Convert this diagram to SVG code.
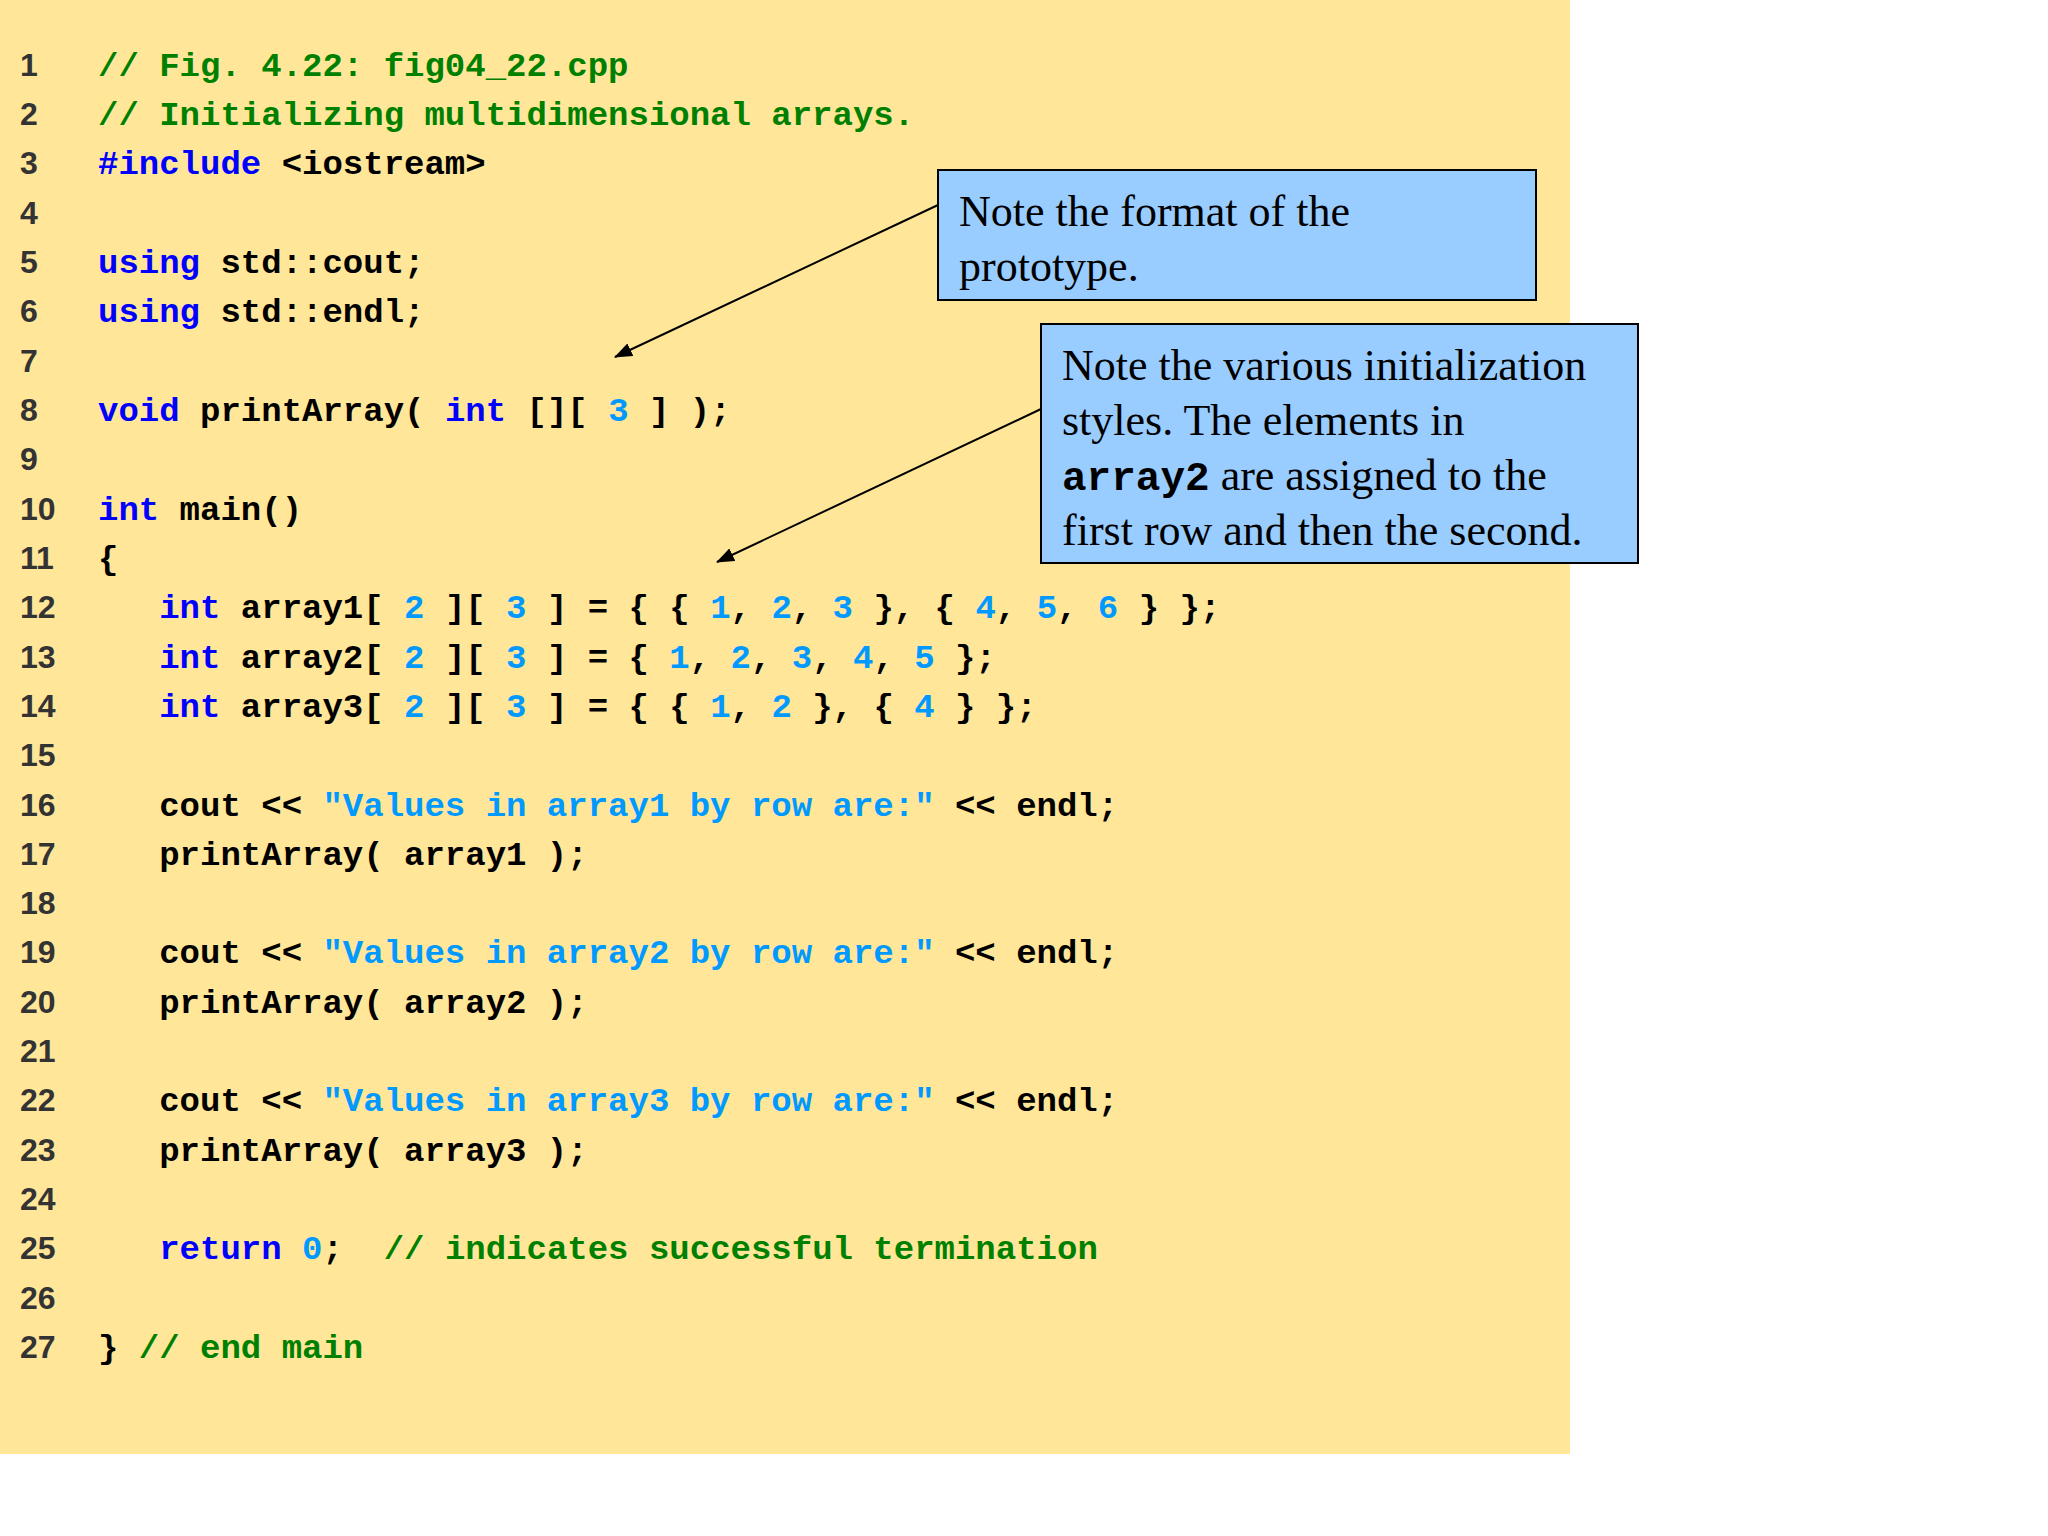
<svg xmlns="http://www.w3.org/2000/svg" width="2048" height="1536" viewBox="0 0 2048 1536">
<style>
.ln{font-family:"Liberation Sans Narrow","Liberation Sans",Arial,sans-serif;font-weight:bold;font-size:32px;fill:#333}
.c{font-family:"Liberation Mono","Courier New",monospace;font-weight:bold;font-size:34px;fill:#000;white-space:pre}
.g{fill:#008000}.k{fill:#0000ff}.n{fill:#0099ff}
.note{font-family:"Liberation Serif","Times New Roman",serif;font-size:44px;fill:#000}
.box{fill:#99ccff;stroke:#000;stroke-width:2}
.arr{stroke:#000;stroke-width:2;fill:none;marker-end:url(#ah)}
</style>
<defs><marker id="ah" markerWidth="18" markerHeight="14" refX="17" refY="7" orient="auto" markerUnits="userSpaceOnUse"><path d="M0,0 L18,7 L0,14 z" fill="#000"/></marker></defs>
<rect x="0" y="0" width="1570" height="1454" fill="#ffe699"/>
<g id="linenumbers" class="ln">
<text x="20" y="76">1</text><text x="20" y="125">2</text><text x="20" y="174">3</text><text x="20" y="224">4</text><text x="20" y="273">5</text><text x="20" y="322">6</text><text x="20" y="372">7</text><text x="20" y="421">8</text><text x="20" y="470">9</text>
<text x="20" y="520">10</text><text x="20" y="569">11</text><text x="20" y="618">12</text><text x="20" y="668">13</text><text x="20" y="717">14</text><text x="20" y="766">15</text><text x="20" y="816">16</text><text x="20" y="865">17</text><text x="20" y="914">18</text><text x="20" y="963">19</text><text x="20" y="1013">20</text><text x="20" y="1062">21</text><text x="20" y="1111">22</text><text x="20" y="1161">23</text><text x="20" y="1210">24</text><text x="20" y="1259">25</text><text x="20" y="1309">26</text><text x="20" y="1358">27</text>
</g>
<g id="code" class="c" xml:space="preserve">
<text x="98" y="76" class="c g">// Fig. 4.22: fig04_22.cpp</text>
<text x="98" y="125" class="c g">// Initializing multidimensional arrays.</text>
<text x="98" y="174" class="c"><tspan class="k">#include</tspan> &lt;iostream&gt;</text>
<text x="98" y="273" class="c"><tspan class="k">using</tspan> std::cout;</text>
<text x="98" y="322" class="c"><tspan class="k">using</tspan> std::endl;</text>
<text x="98" y="421" class="c"><tspan class="k">void</tspan> printArray( <tspan class="k">int</tspan> [][ <tspan class="n">3</tspan> ] );</text>
<text x="98" y="520" class="c"><tspan class="k">int</tspan> main()</text>
<text x="98" y="569" class="c">{</text>
<text x="98" y="618" class="c">   <tspan class="k">int</tspan> array1[ <tspan class="n">2</tspan> ][ <tspan class="n">3</tspan> ] = { { <tspan class="n">1</tspan>, <tspan class="n">2</tspan>, <tspan class="n">3</tspan> }, { <tspan class="n">4</tspan>, <tspan class="n">5</tspan>, <tspan class="n">6</tspan> } };</text>
<text x="98" y="668" class="c">   <tspan class="k">int</tspan> array2[ <tspan class="n">2</tspan> ][ <tspan class="n">3</tspan> ] = { <tspan class="n">1</tspan>, <tspan class="n">2</tspan>, <tspan class="n">3</tspan>, <tspan class="n">4</tspan>, <tspan class="n">5</tspan> };</text>
<text x="98" y="717" class="c">   <tspan class="k">int</tspan> array3[ <tspan class="n">2</tspan> ][ <tspan class="n">3</tspan> ] = { { <tspan class="n">1</tspan>, <tspan class="n">2</tspan> }, { <tspan class="n">4</tspan> } };</text>
<text x="98" y="816" class="c">   cout &lt;&lt; <tspan class="n">"Values in array1 by row are:"</tspan> &lt;&lt; endl;</text>
<text x="98" y="865" class="c">   printArray( array1 );</text>
<text x="98" y="963" class="c">   cout &lt;&lt; <tspan class="n">"Values in array2 by row are:"</tspan> &lt;&lt; endl;</text>
<text x="98" y="1013" class="c">   printArray( array2 );</text>
<text x="98" y="1111" class="c">   cout &lt;&lt; <tspan class="n">"Values in array3 by row are:"</tspan> &lt;&lt; endl;</text>
<text x="98" y="1161" class="c">   printArray( array3 );</text>
<text x="98" y="1259" class="c">   <tspan class="k">return</tspan> <tspan class="n">0</tspan>;  <tspan class="g">// indicates successful termination</tspan></text>
<text x="98" y="1358" class="c">} <tspan class="g">// end main</tspan></text>
</g>
<g id="connectors">
<line class="arr" x1="938" y1="205" x2="615" y2="357"/>
<line class="arr" x1="1041" y1="409" x2="717" y2="562"/>
</g>
<g id="note1">
<rect class="box" x="938" y="170" width="598" height="130"/>
<text class="note" x="959" y="226">Note the format of the</text>
<text class="note" x="959" y="281">prototype.</text>
</g>
<g id="note2">
<rect class="box" x="1041" y="324" width="597" height="239"/>
<text class="note" x="1062" y="380">Note the various initialization</text>
<text class="note" x="1062" y="435">styles. The elements in</text>
<text class="note" x="1062" y="490"><tspan font-family="Liberation Mono,monospace" font-weight="bold" font-size="41">array2</tspan> are assigned to the</text>
<text class="note" x="1062" y="545">first row and then the second.</text>
</g>
</svg>
